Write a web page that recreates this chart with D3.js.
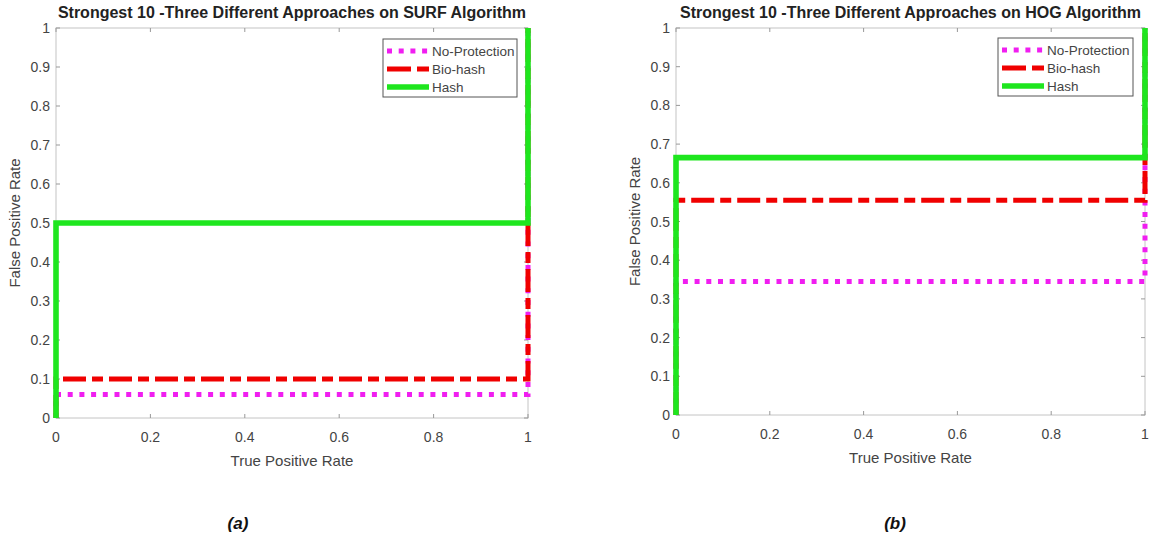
<!DOCTYPE html>
<html>
<head>
<meta charset="utf-8">
<script src="https://cdn.jsdelivr.net/npm/d3@7"></script>
<style>
  body { margin: 0; background: #fff; }
  svg { display: block; font-family: "Liberation Sans", Arial, sans-serif; }
</style>
</head>
<body>
<script>
// data
var axisTicks = [0, 0.2, 0.4, 0.6, 0.8, 1];
var yTicks = [0, 0.1, 0.2, 0.3, 0.4, 0.5, 0.6, 0.7, 0.8, 0.9, 1];
var seriesNames = ["No-Protection", "Bio-hash", "Hash"];
var stepTpr = [0, 0, 1, 1];
var surfNoProtection = [0, 0.06, 0.06, 1];
var surfBioHash = [0, 0.1, 0.1, 1];
var surfHash = [0, 0.5, 0.5, 1];
var hogNoProtection = [0, 0.345, 0.345, 1];
var hogBioHash = [0, 0.555, 0.555, 1];
var hogHash = [0, 0.665, 0.665, 1];
var titles = ["Strongest 10 -Three Different  Approaches on SURF Algorithm",
              "Strongest 10 -Three Different  Approaches on HOG Algorithm"];
var captions = ["(a)", "(b)"];

var styles = [
    {color: "#f01ef0", width: 5, dash: "5,6.7"},
    {color: "#f00000", width: 5, dash: "23,6,11,6"},
    {color: "#1ee61e", width: 5.6, dash: null}
];

var panels = [
    {left: 56, right: 528, top: 28, bottom: 418, legend: {x: 383, y: 39, w: 134, h: 58},
     series: [surfNoProtection, surfBioHash, surfHash], caption: 238},
    {left: 676, right: 1145, top: 28, bottom: 415, legend: {x: 998, y: 38, w: 135, h: 58},
     series: [hogNoProtection, hogBioHash, hogHash], caption: 895}
];

var svg = d3.select("body").append("svg").attr("width", 1151).attr("height", 540);

panels.forEach(function(p, i){
    var x = d3.scaleLinear().domain([0, 1]).range([p.left, p.right]);
    var y = d3.scaleLinear().domain([0, 1]).range([p.bottom, p.top]);
    var g = svg.append("g");

    // frame
    g.append("rect")
        .attr("x", p.left).attr("y", p.top)
        .attr("width", p.right - p.left).attr("height", p.bottom - p.top)
        .attr("fill", "none").attr("stroke", "#c4c4c4").attr("stroke-width", 1);

    // ticks (inward, both sides)
    axisTicks.forEach(function(t){
        g.append("line").attr("x1", x(t)).attr("x2", x(t)).attr("y1", p.bottom).attr("y2", p.bottom - 4)
            .attr("stroke", "#999");
        g.append("line").attr("x1", x(t)).attr("x2", x(t)).attr("y1", p.top).attr("y2", p.top + 4)
            .attr("stroke", "#999");
        g.append("text").attr("x", x(t)).attr("y", p.bottom + 24)
            .attr("text-anchor", "middle").attr("font-size", 14).attr("fill", "#444")
            .text(d3.format("~g")(t));
    });
    yTicks.forEach(function(t){
        g.append("line").attr("x1", p.left).attr("x2", p.left + 4).attr("y1", y(t)).attr("y2", y(t))
            .attr("stroke", "#999");
        g.append("line").attr("x1", p.right).attr("x2", p.right - 4).attr("y1", y(t)).attr("y2", y(t))
            .attr("stroke", "#999");
        g.append("text").attr("x", p.left - 6).attr("y", y(t) + 5)
            .attr("text-anchor", "end").attr("font-size", 14).attr("fill", "#444")
            .text(d3.format("~g")(t));
    });

    // series
    var line = d3.line()
        .x(function(d){ return x(d[0]); })
        .y(function(d){ return y(d[1]); });
    p.series.forEach(function(vals, k){
        var pts = stepTpr.map(function(tx, j){ return [tx, vals[j]]; });
        g.append("path").datum(pts)
            .attr("d", line)
            .attr("fill", "none")
            .attr("stroke", styles[k].color)
            .attr("stroke-width", styles[k].width)
            .attr("stroke-dasharray", styles[k].dash)
            .attr("stroke-linejoin", "miter");
    });

    // title
    g.append("text").attr("x", (p.left + p.right) / 2).attr("y", 18)
        .attr("text-anchor", "middle").attr("font-size", 16).attr("font-weight", "bold")
        .attr("fill", "#222").text(titles[i]);

    // axis labels
    g.append("text").attr("x", (p.left + p.right) / 2).attr("y", p.bottom + 48)
        .attr("text-anchor", "middle").attr("font-size", 15).attr("fill", "#444")
        .text("True Positive Rate");
    g.append("text")
        .attr("transform", "translate(" + (p.left - 36) + "," + ((p.top + p.bottom) / 2) + ") rotate(-90)")
        .attr("text-anchor", "middle").attr("font-size", 15).attr("fill", "#444")
        .text("False Positive Rate");

    // legend
    var L = p.legend;
    var lg = g.append("g");
    lg.append("rect").attr("x", L.x).attr("y", L.y).attr("width", L.w).attr("height", L.h)
        .attr("fill", "#fff").attr("stroke", "#555").attr("stroke-width", 1);
    seriesNames.forEach(function(name, k){
        var ly = L.y + 12 + k * 18;
        lg.append("line").attr("x1", L.x + 4).attr("x2", L.x + 46).attr("y1", ly).attr("y2", ly)
            .attr("stroke", styles[k].color).attr("stroke-width", styles[k].width)
            .attr("stroke-dasharray", k == 1 ? "24,6,12,6" : styles[k].dash);
        lg.append("text").attr("x", L.x + 49).attr("y", ly + 5)
            .attr("font-size", 13.5).attr("fill", "#444").text(name);
    });

    // caption
    svg.append("text").attr("x", p.caption).attr("y", 529)
        .attr("text-anchor", "middle").attr("font-size", 17).attr("font-weight", "bold")
        .attr("font-style", "italic").attr("fill", "#111").text(captions[i]);
});
</script>
</body>
</html>
